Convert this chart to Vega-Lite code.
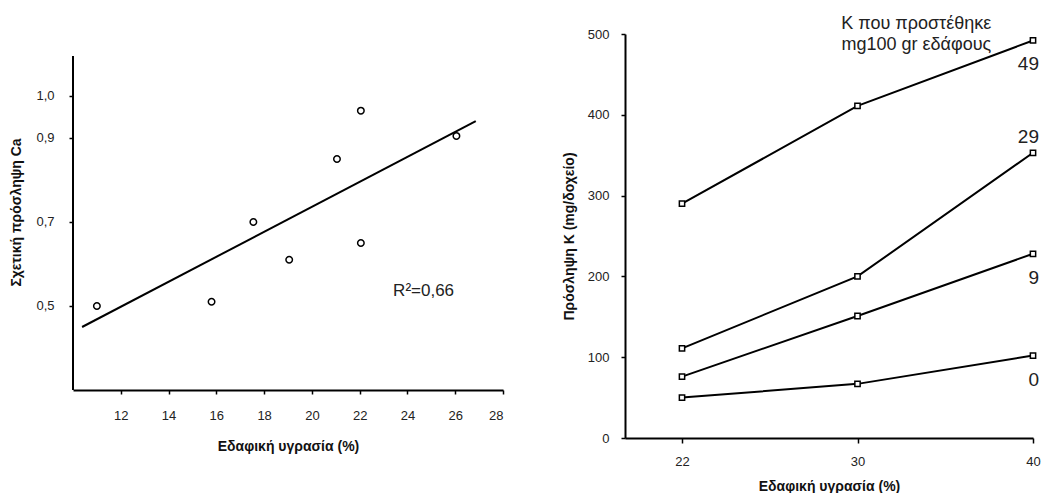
{
  "$schema": "https://vega.github.io/schema/vega-lite/v6.json",
  "background": "white",
  "padding": {"left": 9, "top": 15, "right": 0, "bottom": 0},
  "autosize": {"type": "pad"},
  "spacing": 58,
  "config": {
    "view": {"stroke": null},
    "font": "Liberation Sans",
    "axis": {
      "domainColor": "black", "domainWidth": 2,
      "tickColor": "black", "tickWidth": 1.5, "tickSize": 4,
      "labelColor": "#222", "labelFont": "Liberation Sans", "labelFontSize": 13,
      "titleColor": "#111", "titleFont": "Liberation Sans", "titleFontSize": 14, "titleFontWeight": "bold",
      "grid": false
    }
  },
  "hconcat": [
    {
      "width": 430,
      "height": 356,
      "data": {"values": [
        {"moisture": 11.0, "ca": 0.50},
        {"moisture": 15.8, "ca": 0.51},
        {"moisture": 17.55, "ca": 0.70},
        {"moisture": 19.05, "ca": 0.61},
        {"moisture": 21.05, "ca": 0.85},
        {"moisture": 22.05, "ca": 0.65},
        {"moisture": 22.05, "ca": 0.965},
        {"moisture": 26.05, "ca": 0.905}
      ]},
      "layer": [
        {
          "data": {"values": [{"axis": "y"}]},
          "mark": {"type": "rule", "color": "black", "strokeWidth": 2},
          "encoding": {
            "x": {"datum": 10, "type": "quantitative"},
            "y": {"datum": 0.3, "type": "quantitative"},
            "y2": {"datum": 1.095}
          }
        },
        {
          "data": {"values": [
            {"moisture": 10.38, "ca": 0.45},
            {"moisture": 26.86, "ca": 0.94}
          ]},
          "mark": {"type": "line", "color": "black", "strokeWidth": 2},
          "encoding": {
            "x": {"field": "moisture", "type": "quantitative"},
            "y": {"field": "ca", "type": "quantitative"}
          }
        },
        {
          "mark": {"type": "point", "shape": "circle", "size": 42, "stroke": "black", "strokeWidth": 1.5, "fill": "white", "filled": true, "opacity": 1},
          "encoding": {
            "x": {
              "field": "moisture", "type": "quantitative",
              "scale": {"domain": [10, 28], "nice": false, "zero": false},
              "axis": {"values": [12, 14, 16, 18, 20, 22, 24, 26, 28], "title": "Εδαφική υγρασία (%)", "labelPadding": 15, "titlePadding": 17}
            },
            "y": {
              "field": "ca", "type": "quantitative",
              "scale": {"domain": [0.3, 1.1476], "nice": false, "zero": false},
              "axis": {"values": [0.5, 0.7, 0.9, 1.0], "domain": false, "labelExpr": "replace(format(datum.value, '.1f'), '.', ',')", "title": "Σχετική πρόσληψη Ca", "labelPadding": 15, "titlePadding": 12}
            }
          }
        },
        {
          "data": {"values": [{"label": "R²=0,66"}]},
          "mark": {"type": "text", "fontSize": 17, "align": "left", "baseline": "middle", "color": "#222", "font": "Liberation Sans"},
          "encoding": {
            "x": {"datum": 23.4, "type": "quantitative"},
            "y": {"datum": 0.535, "type": "quantitative"},
            "text": {"field": "label", "type": "nominal"}
          }
        }
      ]
    },
    {
      "width": 408,
      "height": 404,
      "title": {
        "text": ["Κ που προστέθηκε", "mg100 gr εδάφους"],
        "anchor": "end", "fontSize": 18, "fontWeight": "normal", "color": "#222",
        "font": "Liberation Sans", "lineHeight": 20.6, "dx": -49, "dy": 25.7, "offset": 0
      },
      "data": {"values": [
        {"moisture": 22, "K": 0, "uptake": 50},
        {"moisture": 30, "K": 0, "uptake": 67},
        {"moisture": 40, "K": 0, "uptake": 102},
        {"moisture": 22, "K": 9, "uptake": 76},
        {"moisture": 30, "K": 9, "uptake": 151},
        {"moisture": 40, "K": 9, "uptake": 228},
        {"moisture": 22, "K": 29, "uptake": 111},
        {"moisture": 30, "K": 29, "uptake": 200},
        {"moisture": 40, "K": 29, "uptake": 353},
        {"moisture": 22, "K": 49, "uptake": 290},
        {"moisture": 30, "K": 49, "uptake": 411},
        {"moisture": 40, "K": 49, "uptake": 492}
      ]},
      "encoding": {
        "x": {
          "field": "moisture", "type": "ordinal",
          "scale": {"type": "point", "padding": 0.1624, "align": 1},
          "axis": {"labelAngle": 0, "title": "Εδαφική υγρασία (%)", "tickSize": 5, "labelPadding": 12, "titlePadding": 11}
        },
        "y": {
          "field": "uptake", "type": "quantitative",
          "scale": {"domain": [0, 500], "nice": false},
          "axis": {"values": [0, 100, 200, 300, 400, 500], "title": "Πρόσληψη Κ (mg/δοχείο)", "labelPadding": 12, "titlePadding": 11}
        }
      },
      "layer": [
        {
          "mark": {"type": "line", "color": "black", "strokeWidth": 2},
          "encoding": {"detail": {"field": "K", "type": "nominal"}}
        },
        {
          "mark": {"type": "point", "shape": "square", "size": 28, "stroke": "black", "strokeWidth": 1.5, "fill": "white", "filled": true, "opacity": 1}
        },
        {
          "transform": [{"filter": "datum.moisture == 40 && datum.K != 29"}],
          "mark": {"type": "text", "fontSize": 19, "align": "right", "baseline": "middle", "dx": 6, "dy": 24, "color": "#222", "font": "Liberation Sans"},
          "encoding": {"text": {"field": "K", "type": "nominal"}}
        },
        {
          "transform": [{"filter": "datum.moisture == 40 && datum.K == 29"}],
          "mark": {"type": "text", "fontSize": 19, "align": "right", "baseline": "middle", "dx": 6, "dy": -16, "color": "#222", "font": "Liberation Sans"},
          "encoding": {"text": {"field": "K", "type": "nominal"}}
        }
      ]
    }
  ]
}
